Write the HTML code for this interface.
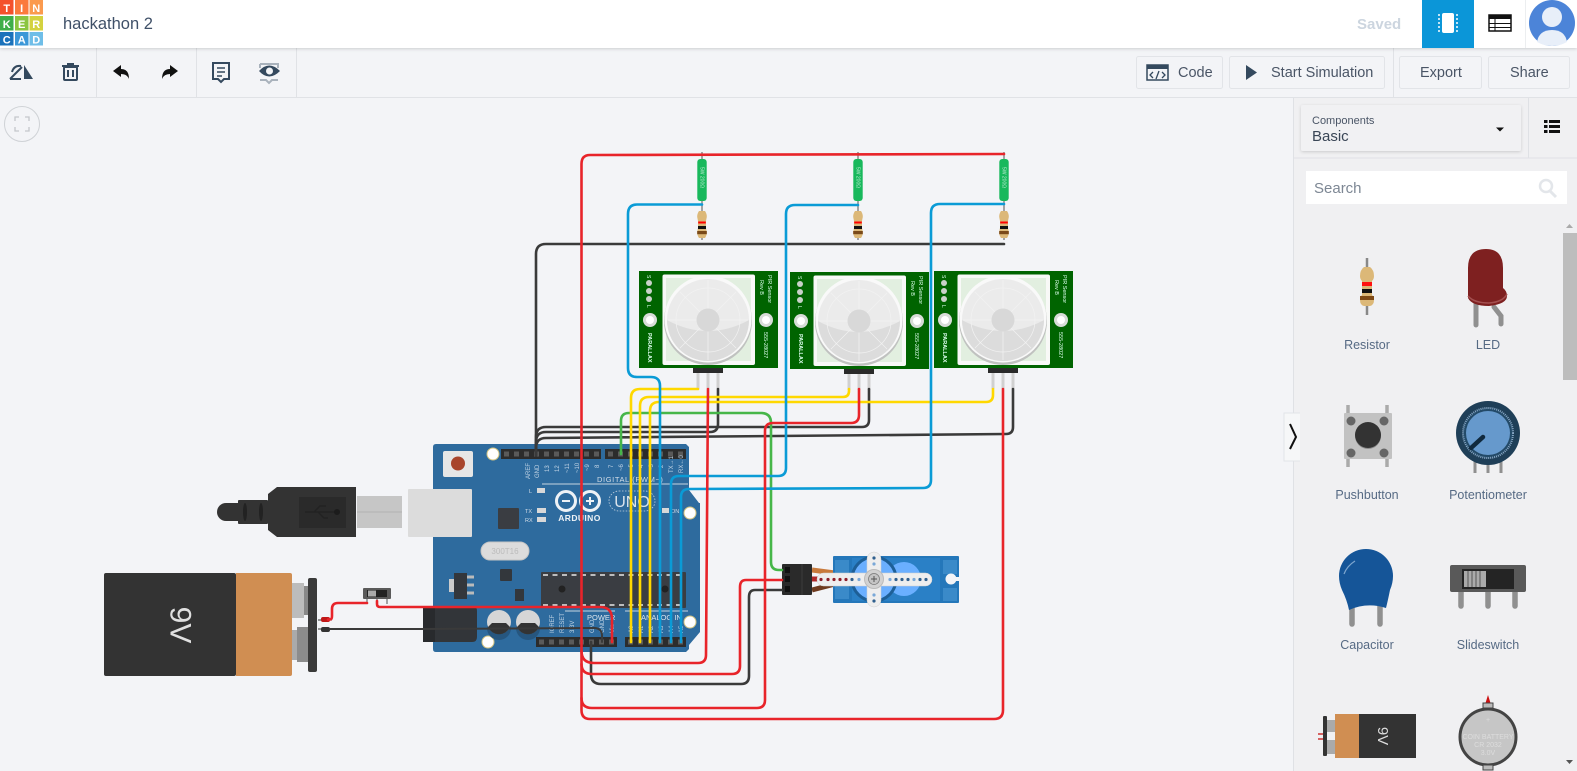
<!DOCTYPE html>
<html><head><meta charset="utf-8"><style>
html,body{margin:0;padding:0;width:1577px;height:771px;overflow:hidden;background:#f3f4f7}
svg{display:block}
text{font-family:"Liberation Sans",sans-serif}
.w{fill:none;stroke-width:2.6;stroke-linecap:round;stroke-linejoin:round}
.lab{font-size:12.5px;fill:#566a84;text-anchor:middle}
.pl{font-size:6px;fill:#c4d6e6;text-anchor:start}
.btn{fill:#f3f4f7;stroke:#e2e4e8;stroke-width:1}
.bt{font-size:14.5px;fill:#4a5566}
.ic{fill:none;stroke:#34495e;stroke-width:2}
</style></head><body>
<svg width="1577" height="771" viewBox="0 0 1577 771" xmlns="http://www.w3.org/2000/svg">
<defs>
<filter id="sh" x="-5%" y="-20%" width="110%" height="150%"><feDropShadow dx="0" dy="1" stdDeviation="1.5" flood-color="#000" flood-opacity=".16"/></filter>
<clipPath id="dome"><circle cx="69" cy="49" r="41"/></clipPath>
<g id="pir">
<rect width="139" height="97" fill="#006400"/>
<rect x="23.500" y="3.500" width="92.500" height="90.500" rx="2" fill="#f8f9f7"/>
<rect x="27" y="7" width="85" height="83" fill="#e2efe0"/>
<circle cx="69" cy="50" r="44" fill="#c0c2c0"/>
<circle cx="69" cy="48" r="43.500" fill="#f9f9f9"/>
<circle cx="69" cy="49" r="41" fill="#ebebeb"/>
<g clip-path="url(#dome)"><path d="M26 48Q69 72 112 48V95H26Z" fill="#dcdcdc"/></g>
<circle cx="69" cy="49" r="32" fill="none" stroke="#f2f2f2" stroke-width=".7"/>
<g stroke="#f2f2f2" stroke-width=".7"><path d="M69 38V9M69 60V89M58 49H29M80 49H109M61 41L41 21M77 41L97 21M61 57L41 77M77 57L97 77"/></g>
<circle cx="69" cy="49" r="11.500" fill="#d8d8d8"/>
<circle cx="10" cy="12" r="3" fill="#c9d2c9"/><circle cx="10" cy="20" r="3" fill="#c9d2c9"/><circle cx="10" cy="28" r="3" fill="#c9d2c9"/>
<circle cx="11" cy="49" r="7" fill="#d8dcd8"/><circle cx="11" cy="49" r="4" fill="#fff"/>
<circle cx="127" cy="49" r="7" fill="#d8dcd8"/><circle cx="127" cy="49" r="4" fill="#fff"/>
<text transform="translate(8,4) rotate(90)" font-size="5" fill="#dfe">S</text>
<text transform="translate(8,34) rotate(90)" font-size="5" fill="#dfe">L</text>
<text transform="translate(129,4) rotate(90)" font-size="5.500" fill="#dfe">PIR Sensor</text>
<text transform="translate(121,9) rotate(90)" font-size="5.500" fill="#dfe">Rev B</text>
<text transform="translate(9,62) rotate(90)" font-size="5.500" font-weight="bold" fill="#dfe">PARALLAX</text>
<text transform="translate(125,61) rotate(90)" font-size="5.500" fill="#dfe">555-28027</text>
<rect x="54" y="97" width="30" height="5" fill="#2a2a2a"/>
<path d="M59 102V118M69 102V118M79 102V118" stroke="#d0d0d0" stroke-width="3" fill="none"/>
</g>
<g id="lamp">
<path d="M0 -3V85" stroke="#888" stroke-width="1.500"/>
<rect x="-4.700" y="4" width="9.400" height="42" rx="3" fill="#18b85c"/>
<text transform="translate(-1.500,12) rotate(90)" font-size="5" fill="#b8ead0">5W 200Ω</text>
<path d="M-3 56Q-5 59 -4.800 62L-4 66V73L-4.800 77Q-5 80 -3 83H3Q5 80 4.800 77L4 73V66L4.800 62Q5 59 3 56Z" fill="#dcb878"/>
<rect x="-3.800" y="66.500" width="7.600" height="2" fill="#f00"/>
<rect x="-4" y="71" width="8" height="3" fill="#111"/>
<rect x="-4.800" y="76" width="9.600" height="3.200" fill="#7a4a1a"/>
</g>
</defs>

<rect width="1577" height="771" fill="#f3f4f7"/>

<!-- Palette -->
<rect x="1293" y="97" width="284" height="674" fill="#f0f0f2"/>
<line x1="1293.500" y1="97" x2="1293.500" y2="771" stroke="#dfe1e5"/>
<line x1="1293" y1="158" x2="1577" y2="158" stroke="#dfe1e5"/>
<line x1="1528.500" y1="97" x2="1528.500" y2="158" stroke="#dfe1e5"/>
<rect x="1301" y="105" width="220" height="46" rx="2" fill="#f1f1f3" filter="url(#sh)"/>
<text x="1312" y="124" font-size="11" fill="#4a5566">Components</text>
<text x="1312" y="141" font-size="15" fill="#3a4656">Basic</text>
<path d="M1496 127.500h8l-4 4z" fill="#111"/>
<g fill="#111"><rect x="1544" y="120" width="3.500" height="3"/><rect x="1549" y="120" width="11" height="3"/><rect x="1544" y="125" width="3.500" height="3"/><rect x="1549" y="125" width="11" height="3"/><rect x="1544" y="130" width="3.500" height="3"/><rect x="1549" y="130" width="11" height="3"/></g>
<rect x="1306" y="171" width="261" height="33" fill="#fff"/>
<text x="1314" y="193" font-size="15" fill="#7d8794">Search</text>
<circle cx="1546" cy="186" r="6" fill="none" stroke="#e3e6ea" stroke-width="2.500"/><path d="M1550 191l6 6" stroke="#e3e6ea" stroke-width="3"/>
<rect x="1563" y="233" width="14" height="147" fill="#bdbdbd"/>
<path d="M1566 228l3.500-4 3.500 4z" fill="#aaa"/><path d="M1566 760l3.500 4 3.500-4z" fill="#555"/>
<path d="M1300 413H1284V461H1300" fill="#f6f7f8" stroke="#e2e4e8"/>
<path d="M1290 424L1296 437L1290 449" fill="none" stroke="#111" stroke-width="2"/>

<!-- Resistor -->
<path d="M1367 258V315" stroke="#888" stroke-width="2.500"/>
<path d="M1364 267Q1360 270 1360 276Q1360 279 1362 281V295Q1360 297 1360 300Q1360 305 1364 306H1370Q1374 305 1374 300Q1374 297 1372 295V281Q1374 279 1374 276Q1374 270 1370 267Z" fill="#dcb878"/>
<rect x="1362" y="282" width="10" height="4" fill="#f11"/><rect x="1362" y="289" width="10" height="4" fill="#111"/><rect x="1360" y="296" width="14" height="4" fill="#7f4a16"/>
<text class="lab" x="1367" y="349">Resistor</text>
<!-- LED -->
<path d="M1476 301V325M1494 307L1501 316V324" fill="none" stroke="#909090" stroke-width="5" stroke-linecap="round"/>
<path d="M1468 298V268Q1468 249 1486 249Q1503 249 1503 268V288Q1507 291 1507 296Q1507 304 1489 306Q1472 306 1468 298Z" fill="#7e2020"/>
<path d="M1468 296Q1474 303 1489 303Q1503 302 1507 294" fill="none" stroke="#a45050" stroke-width="1.500"/>
<text class="lab" x="1488" y="349">LED</text>
<!-- Pushbutton -->
<path d="M1348 405V415M1387 405V415M1348 459V467M1387 459V467" stroke="#aaa" stroke-width="3.500"/>
<rect x="1344" y="413" width="48" height="46" rx="1" fill="#c2c2c2"/>
<circle cx="1368" cy="436" r="13" fill="#8b8b8b"/><circle cx="1368" cy="435" r="13" fill="#333"/>
<circle cx="1351" cy="421" r="4.500" fill="#666"/><circle cx="1384" cy="421" r="4.500" fill="#666"/><circle cx="1351" cy="453" r="4.500" fill="#666"/><circle cx="1384" cy="453" r="4.500" fill="#666"/>
<text class="lab" x="1367" y="499">Pushbutton</text>
<!-- Potentiometer -->
<path d="M1475 460V473M1488 460V473M1501 460V473" stroke="#909090" stroke-width="3"/>
<circle cx="1488" cy="433" r="32" fill="#1f3f58"/><circle cx="1488" cy="433" r="25" fill="#234a68" stroke="#8aa9c6" stroke-width="2" stroke-dasharray="1 1"/>
<circle cx="1488" cy="433" r="22" fill="#6699cc"/>
<path d="M1483 437L1471 448" stroke="#10293d" stroke-width="4.500" stroke-linecap="round"/>
<text class="lab" x="1488" y="499">Potentiometer</text>
<!-- Capacitor -->
<path d="M1352 605V624M1380 605V624" stroke="#909090" stroke-width="5.500" stroke-linecap="round"/>
<path d="M1349 610Q1347 600 1342 590Q1339 583 1339 576A27 27 0 0 1 1393 576Q1393 583 1390 590Q1388 600 1386 608Q1367 602 1349 610Z" fill="#155598"/>
<path d="M1344 574Q1347 566 1355 561" fill="none" stroke="#7ea6ce" stroke-width="1.200"/>
<text class="lab" x="1367" y="649">Capacitor</text>
<!-- Slideswitch -->
<path d="M1461 590V606M1488 590V606M1515 590V606" stroke="#909090" stroke-width="5.500" stroke-linecap="round"/>
<rect x="1450" y="565" width="76" height="27" rx="2" fill="#595959"/>
<rect x="1462" y="569" width="52" height="20" fill="#242424"/>
<rect x="1464" y="571" width="22" height="16" fill="#aaa"/>
<path d="M1468 571v16M1472 571v16M1476 571v16M1480 571v16" stroke="#555" stroke-width="1"/>
<text class="lab" x="1488" y="649">Slideswitch</text>
<!-- Battery palette -->
<rect x="1323" y="716" width="4" height="40" rx="1" fill="#333"/>
<rect x="1327" y="720" width="8" height="12" fill="#aaa"/><rect x="1327" y="740" width="8" height="14" fill="#aaa"/>
<rect x="1335" y="714" width="24" height="44" fill="#d08e52"/><rect x="1359" y="714" width="57" height="44" fill="#333"/>
<text transform="translate(1378,736) rotate(90)" font-size="15" fill="#ddd" text-anchor="middle">9V</text>
<path d="M1318 734h5M1318 739h5" stroke="#c33" stroke-width="1.500"/>
<!-- Coin -->
<path d="M1488 695l2.500 8h-5z" fill="#c11"/>
<circle cx="1488" cy="737" r="28" fill="#c6c6c6" stroke="#444" stroke-width="3"/>
<rect x="1483" y="703" width="10" height="5" fill="#bbb" stroke="#444"/><rect x="1483" y="765" width="10" height="5" fill="#bbb" stroke="#444"/>
<g font-size="7" fill="#ddd" text-anchor="middle"><text x="1488" y="722">+</text><text x="1488" y="739">COIN BATTERY</text><text x="1488" y="747">CR 2032</text><text x="1488" y="755">3.0V</text></g>

<!-- Top bar -->
<rect y="48" width="1577" height="49" fill="#f3f4f7"/>
<line y1="97.500" x2="1577" y2="97.500" stroke="#e0e2e6"/>
<g stroke="#e0e2e6"><line x1="96.500" y1="48" x2="96.500" y2="97"/><line x1="196.500" y1="48" x2="196.500" y2="97"/><line x1="296.500" y1="48" x2="296.500" y2="97"/><line x1="1393.500" y1="48" x2="1393.500" y2="97"/></g>
<rect width="1577" height="48" fill="#fff" filter="url(#sh)"/>
<g font-size="11" font-weight="bold" fill="#fff" text-anchor="middle">
<rect x="0" y="0" width="13.500" height="14.500" fill="#f4512c"/><rect x="15" y="0" width="13.500" height="14.500" fill="#fb7a3c"/><rect x="29.500" y="0" width="13.500" height="14.500" fill="#fb9a4e"/>
<rect x="0" y="16" width="13.500" height="14.500" fill="#3fae49"/><rect x="15" y="16" width="13.500" height="14.500" fill="#8cc540"/><rect x="29.500" y="16" width="13.500" height="14.500" fill="#d4d23f"/>
<rect x="0" y="32" width="13.500" height="13.500" fill="#1a72bb"/><rect x="15" y="32" width="13.500" height="13.500" fill="#3c98d8"/><rect x="29.500" y="32" width="13.500" height="13.500" fill="#6fbee8"/>
<text x="6.700" y="12">T</text><text x="21.700" y="12">I</text><text x="36.200" y="12">N</text>
<text x="6.700" y="28">K</text><text x="21.700" y="28">E</text><text x="36.200" y="28">R</text>
<text x="6.700" y="43.500">C</text><text x="21.700" y="43.500">A</text><text x="36.200" y="43.500">D</text>
</g>
<text x="63" y="29" font-size="16.500" fill="#3f5068">hackathon 2</text>
<text x="1357" y="29" font-size="15" font-weight="bold" fill="#ccd5df">Saved</text>
<rect x="1422" y="0" width="52" height="48" fill="#0b96d8"/>
<rect x="1442" y="13" width="12" height="20" rx="2" fill="#fff"/>
<path d="M1439 14v18M1457 14v18" stroke="#fff" stroke-width="1.500" stroke-dasharray="2 2"/>
<rect x="1489" y="15" width="22" height="16" fill="#fff" stroke="#111" stroke-width="1.500"/><rect x="1489" y="15" width="22" height="4" fill="#111"/>
<path d="M1489 23.500h22M1489 27.500h22M1495 19v12" stroke="#111"/>
<line x1="1525.500" y1="0" x2="1525.500" y2="48" stroke="#eceef0"/>
<circle cx="1552" cy="23" r="23" fill="#4c84d8"/>
<circle cx="1552" cy="17" r="10" fill="#e8eff9"/><path d="M1537 42Q1539 30 1552 30Q1565 30 1567 42Q1552 50 1537 42Z" fill="#e8eff9"/>

<!-- Toolbar icons -->
<path d="M10 79L22 67M10 79H21" class="ic"/><path d="M12 72Q14 65 21 66" class="ic"/><path d="M24 65V79H33Z" fill="#34495e"/>
<g class="ic"><rect x="64" y="67" width="13" height="13" rx="1"/><path d="M62 66H79M67 64H74M68 70V77M73 70V77"/></g>
<path d="M113 71L121 65V69Q129 69 129 79Q127 74 121 74V77Z" fill="#111"/>
<path d="M178 71L170 65V69Q162 69 162 79Q164 74 170 74V77Z" fill="#111"/>
<g class="ic"><path d="M213 63H229V79H224L221 82L218 79H213Z"/><path d="M217 68H225M217 72H225M217 76H222" stroke-width="1.500"/></g>
<path d="M260 64H278V68M260 64V68M260 80H266L269 83L272 80H278" fill="none" stroke="#a9b2bc" stroke-width="2"/>
<path d="M259 71Q269 60 280 71Q269 82 259 71Z" fill="#34495e"/><circle cx="269.500" cy="71" r="3.500" fill="#f3f4f7"/>
<circle cx="22" cy="124" r="17.500" fill="#f3f4f7" stroke="#cfd2d6"/>
<path d="M15 121V117H19M25 117H29V121M29 127V131H25M19 131H15V127" fill="none" stroke="#c4c7cb" stroke-width="1.300"/>
<!-- Toolbar buttons -->
<rect class="btn" x="1136.500" y="56.500" width="86" height="32" rx="2"/>
<rect class="btn" x="1229.500" y="56.500" width="155" height="32" rx="2"/>
<rect class="btn" x="1399.500" y="56.500" width="82" height="32" rx="2"/>
<rect class="btn" x="1488.500" y="56.500" width="81" height="32" rx="2"/>
<rect x="1147" y="65" width="21" height="15" fill="none" stroke="#34495e" stroke-width="1.500"/><rect x="1147" y="65" width="21" height="4" fill="#34495e"/>
<path d="M1153 72L1150 75L1153 78M1162 72L1165 75L1162 78M1159 71L1156 79" fill="none" stroke="#34495e" stroke-width="1.300"/>
<text class="bt" x="1178" y="77">Code</text>
<path d="M1246 65L1257 72.500L1246 80Z" fill="#34495e"/>
<text class="bt" x="1271" y="77">Start Simulation</text>
<text class="bt" x="1420" y="77">Export</text>
<text class="bt" x="1510" y="77">Share</text>

<!-- Lamps -->
<use href="#lamp" x="702" y="155"/><use href="#lamp" x="858" y="155"/><use href="#lamp" x="1004" y="155"/>
<!-- PIR -->
<use href="#pir" x="639" y="271"/><use href="#pir" x="790" y="272"/><use href="#pir" x="934" y="271"/>

<!-- Arduino -->
<path d="M436 444H686L689 447V490L699 503H700V632L689 645V649L686 652H436Q433 652 433 649V447Q433 444 436 444Z" fill="#2e6b9e"/>
<rect x="443" y="451" width="30" height="26" rx="2" fill="#e6e6e6"/><circle cx="458" cy="463.500" r="7" fill="#a8452c"/>
<circle cx="493" cy="454" r="6" fill="#fff" stroke="#d4c480"/><circle cx="690" cy="513" r="6" fill="#fff" stroke="#d4c480"/><circle cx="690" cy="622" r="6" fill="#fff" stroke="#d4c480"/><circle cx="488" cy="642" r="6" fill="#fff" stroke="#d4c480"/>
<g fill="#2c2c2c"><rect x="501" y="449" width="100" height="10"/><rect x="605" y="449" width="81" height="10"/><rect x="536" y="637" width="81" height="10"/><rect x="625" y="637" width="61" height="10"/></g>
<g stroke="#5a5a5a" stroke-width="5" stroke-dasharray="5 5" fill="none"><path d="M504 454H600M608 454H686M539 642H616M628 642H686"/></g>
<rect x="408" y="489" width="64" height="48" rx="1" fill="#dcdcdc"/>
<rect x="498" y="508" width="21" height="21" rx="1" fill="#3a3d42"/>
<rect x="481" y="542" width="48" height="18" rx="9" fill="#dcdcdc" stroke="#c4c4c4"/>
<text x="505" y="554" font-size="8" fill="#bbb" text-anchor="middle">300T16</text>
<rect x="500" y="569" width="12" height="12" rx="1" fill="#33373c"/>
<rect x="454" y="573" width="13" height="26" fill="#33373c"/><rect x="449" y="579" width="5" height="13" fill="#ccc"/>
<path d="M467 577h7M467 585h7M467 593h7" stroke="#bbb" stroke-width="3"/>
<rect x="515" y="589" width="9" height="12" fill="#33373c"/>
<rect x="541" y="572" width="145" height="36" rx="1" fill="#3a3d42"/>
<path d="M543 575H684M543 605H684" stroke="#e8e8e8" stroke-width="1.600" stroke-dasharray="5 4.500"/>
<circle cx="562" cy="589" r="3.500" fill="#222"/><circle cx="665" cy="589" r="3.500" fill="#222"/>
<circle cx="499" cy="628" r="12" fill="#26567f"/><circle cx="528" cy="628" r="12" fill="#26567f"/>
<circle cx="499" cy="622" r="12" fill="#d6d6d6"/><path d="M488 627A12 12 0 0 0 510 627L506 623H492Z" fill="#333"/>
<circle cx="528" cy="622" r="12" fill="#d6d6d6"/><path d="M517 627A12 12 0 0 0 539 627L535 623H521Z" fill="#333"/>
<path d="M423 606H472Q477 606 477 611V637Q477 642 472 642H426Q423 642 423 639Z" fill="#323539"/><rect x="423" y="606" width="12" height="36" fill="#282a2d"/>
<text x="597" y="482" font-size="7.500" fill="#d4dee8" letter-spacing=".6">DIGITAL (PWM~)</text>
<line x1="542" y1="484" x2="688" y2="484" stroke="#c6d4e0"/>
<rect x="537" y="488" width="8" height="5" fill="#d8d8d8"/><rect x="537" y="508" width="9" height="5" fill="#d8d8d8"/><rect x="537" y="517" width="9" height="5" fill="#d8d8d8"/><rect x="662" y="508" width="7" height="5" fill="#d8d8d8"/>
<g font-size="5.500" fill="#d4dee8"><text x="529" y="493">L</text><text x="525" y="513">TX</text><text x="525" y="522">RX</text><text x="671" y="513">ON</text></g>
<circle cx="566" cy="501" r="9.500" fill="none" stroke="#eef2f6" stroke-width="3"/><circle cx="590" cy="501" r="9.500" fill="none" stroke="#eef2f6" stroke-width="3"/>
<path d="M562 501h8M586 501h8M590 497v8" stroke="#eef2f6" stroke-width="2"/>
<text x="579.500" y="521" font-size="8.500" font-weight="bold" fill="#eef2f6" text-anchor="middle" letter-spacing=".4">ARDUINO</text>
<rect x="609" y="491" width="46" height="20" rx="10" fill="none" stroke="#c6d4e0" stroke-dasharray="1.500 1.500" stroke-width=".8"/>
<text x="632" y="507" font-size="16" fill="#dbe4ec" text-anchor="middle">UNO</text>
<g class="pl">
<text transform="translate(530,479) rotate(-90)">AREF</text><text transform="translate(539,478) rotate(-90)">GND</text><text transform="translate(549,472) rotate(-90)">13</text><text transform="translate(559,472) rotate(-90)">12</text><text transform="translate(569,473) rotate(-90)">~11</text><text transform="translate(579,473) rotate(-90)">~10</text><text transform="translate(589,471) rotate(-90)">~9</text><text transform="translate(599,468) rotate(-90)">8</text><text transform="translate(613,468) rotate(-90)">7</text><text transform="translate(623,471) rotate(-90)">~6</text><text transform="translate(633,471) rotate(-90)">~5</text><text transform="translate(643,468) rotate(-90)">4</text><text transform="translate(653,471) rotate(-90)">~3</text><text transform="translate(663,468) rotate(-90)">2</text><text transform="translate(673,473) rotate(-90)">TX→1</text><text transform="translate(683,473) rotate(-90)">RX←0</text>
<text transform="translate(554,633) rotate(-90)">IOREF</text><text transform="translate(564,633) rotate(-90)">RESET</text><text transform="translate(574,633) rotate(-90)">3.3V</text><text transform="translate(594,633) rotate(-90)">GND</text><text transform="translate(604,633) rotate(-90)">GND</text><text transform="translate(614,633) rotate(-90)">Vin</text>
<text transform="translate(633,633) rotate(-90)">A0</text><text transform="translate(643,633) rotate(-90)">A1</text><text transform="translate(653,633) rotate(-90)">A2</text><text transform="translate(663,633) rotate(-90)">A3</text><text transform="translate(673,633) rotate(-90)">A4</text><text transform="translate(683,633) rotate(-90)">A5</text>
</g>
<line x1="565" y1="611" x2="615" y2="611" stroke="#c6d4e0"/><line x1="625" y1="611" x2="688" y2="611" stroke="#c6d4e0"/>
<text x="587" y="620" font-size="7.500" fill="#dbe4ec">POWER</text>
<text x="641" y="620" font-size="7.500" fill="#dbe4ec">ANALOG IN</text>

<!-- USB -->
<rect x="357" y="496" width="45" height="32" fill="#c6c6c6"/><line x1="357" y1="512" x2="402" y2="512" stroke="#b2b2b2"/>
<path d="M277 487H356V537H277L268 530V494Z" fill="#333"/>
<rect x="299" y="497" width="47" height="31" fill="#2a2a2a"/>
<path d="M305 512H335M314 512L320 506H326M318 512L324 518H328" fill="none" stroke="#222" stroke-width="1.500"/><circle cx="337" cy="512" r="3" fill="#1c1c1c"/>
<rect x="238" y="500" width="30" height="24" rx="1" fill="#333"/>
<path d="M226 503H238V521H226A9 9 0 0 1 226 503Z" fill="#333"/>
<ellipse cx="245" cy="512" rx="2" ry="9" fill="#222"/><ellipse cx="261" cy="512" rx="2" ry="9" fill="#222"/>

<!-- Battery -->
<rect x="292" y="583" width="12" height="35" fill="#bcbcbc"/><rect x="304" y="586" width="4" height="29" fill="#888"/>
<rect x="292" y="630" width="5" height="30" fill="#aaa"/><rect x="297" y="627" width="11" height="35" fill="#8c8c8c"/>
<rect x="104" y="573" width="132" height="103" rx="2" fill="#333"/>
<path d="M236 573H290Q292 573 292 575V674Q292 676 290 676H236Z" fill="#d08e52"/>
<rect x="308" y="578" width="9" height="94" rx="2" fill="#3a3a3a"/>
<text transform="translate(180,625) rotate(90)" font-size="30" fill="#e0e0e0" text-anchor="middle" dominant-baseline="central">9V</text>
<path d="M318 620H332M318 629H332" stroke="#333" stroke-width="1"/>
<rect x="321" y="617" width="9" height="5" rx="2" fill="#c01818"/><rect x="321" y="627" width="9" height="5" rx="2" fill="#333"/>
<!-- Switch -->
<path d="M367 599V604M377 599V604M387 599V604" stroke="#888" stroke-width="1.500"/>
<rect x="363" y="588" width="28" height="11" rx="1" fill="#5a5a5a"/><rect x="367" y="590" width="20" height="7" fill="#222"/><rect x="368" y="590.500" width="8" height="6" fill="#aaa"/>

<!-- Servo -->
<path d="M812 570L835 573" stroke="#c87a3c" stroke-width="5"/>
<path d="M812 579H835" stroke="#b02a2a" stroke-width="5"/><path d="M812 590L835 584" stroke="#6e3a1e" stroke-width="5"/>
<rect x="833" y="556" width="126" height="47" rx="1" fill="#2477ba"/>
<rect x="852" y="558" width="88" height="43" fill="#2a80c6"/>
<rect x="835" y="560" width="14" height="16" fill="#3a8ac9"/><rect x="835" y="583" width="14" height="16" fill="#3a8ac9"/>
<rect x="943" y="560" width="14" height="14" fill="#3a8ac9"/><rect x="943" y="588" width="14" height="13" fill="#3a8ac9"/>
<circle cx="904" cy="579" r="17" fill="#6aafff"/>
<circle cx="874" cy="579" r="22" fill="#6aafff" stroke="#1d5f97" stroke-width="3"/>
<circle cx="951" cy="579" r="5.500" fill="#f3f4f7"/><rect x="951" y="577" width="9" height="4" fill="#f3f4f7"/>
<rect x="817" y="573" width="115" height="13" rx="6.500" fill="#eee" stroke="#d0d0d0" stroke-width=".5"/>
<rect x="867" y="552" width="14" height="55" rx="7" fill="#eee" stroke="#d0d0d0" stroke-width=".5"/>
<circle cx="874" cy="579" r="9.500" fill="#d2d2d2" stroke="#bbb"/><circle cx="874" cy="579" r="5.500" fill="#c4c4c4" stroke="#777" stroke-width=".7"/>
<path d="M871 579h6M874 576v6" stroke="#555"/>
<g fill="#8e1e2a"><circle cx="821" cy="579.500" r="1.600"/><circle cx="828" cy="579.500" r="1.600"/><circle cx="834" cy="579.500" r="1.600"/><circle cx="840" cy="579.500" r="1.600"/><circle cx="846" cy="579.500" r="1.600"/></g>
<g fill="#2f5f8e"><circle cx="852" cy="579.500" r="1.600"/><circle cx="896" cy="579.500" r="1.600"/><circle cx="902" cy="579.500" r="1.600"/><circle cx="908" cy="579.500" r="1.600"/><circle cx="920" cy="579.500" r="1.600"/><circle cx="926" cy="579.500" r="1.600"/><circle cx="874" cy="558" r="1.600"/><circle cx="874" cy="601" r="1.600"/></g>
<g fill="#7aa8d8"><circle cx="859" cy="579.500" r="1.600"/><circle cx="890" cy="579.500" r="1.600"/><circle cx="914" cy="579.500" r="1.600"/><circle cx="874" cy="564" r="1.600"/><circle cx="874" cy="595" r="1.600"/></g>
<rect x="782" y="564" width="30" height="31" rx="1" fill="#2a2a2a"/>
<line x1="802" y1="564" x2="802" y2="595" stroke="#3c3c3c"/>
<rect x="785" y="567" width="5" height="6" fill="#111"/><rect x="785" y="576" width="5" height="6" fill="#111"/><rect x="785" y="586" width="5" height="6" fill="#111"/>

<!-- Wires -->
<g class="w" stroke="#3a3a3a">
<path d="M1004 244H546Q536 244 536 254V455"/>
<path d="M718 389V424Q718 432 710 432H546Q536 432 536 442V455"/>
<path d="M869 389V420Q869 427 862 427H546Q536 427 536 437V455"/>
<path d="M1013 389V427Q1013 434 1006 434L546 438Q536 438 536 448V455"/>
<path d="M782 590H755Q749 590 749 597V676Q749 684 741 684H601Q591 684 591 674V642"/>
<path d="M330 629H420L594 628Q602 628 602 636V642" stroke-width="2"/>
</g>
<g class="w" stroke="#46b649">
<path d="M621 454V421Q621 413 629 413H761Q771 413 771 423V562Q771 570 779 570H782"/>
</g>
<g class="w" stroke="#ffd800">
<path d="M698 389H640Q631 389 631 398V642"/>
<path d="M849 389V391Q849 397 843 397H649Q640 397 640 406V642"/>
<path d="M993 389V395Q993 402 986 402H659Q650 402 650 411V642"/>
</g>
<g class="w" stroke="#0a9bd6">
<path d="M702 204.500H637Q628 204.500 628 214V368Q628 377 637 377H651Q660 377 660 386V642"/>
<path d="M858 205H795Q786 205 786 214V468Q786 476 778 476H679Q671 476 671 484V642"/>
<path d="M1004 204H940Q931 204 931 213V480Q931 488 923 488L689 489Q681 489 681 497V642"/>
</g>
<g class="w" stroke="#e8242a">
<path d="M1004 154L590 155Q581.500 155 581.500 164V710Q581.500 719 590 719H994Q1003 719 1003 710V389"/>
<path d="M708 389L706 655Q706 663 698 663H594Q581.500 663 581.500 651"/>
<path d="M782 580H746Q740 580 740 587V666Q740 674 732 674H592Q581.500 674 581.500 664"/>
<path d="M859 389V415Q859 423 851 423H773Q765 423 765 431V700Q765 708 757 708H592Q581.500 708 581.500 698"/>
<path d="M377 601V604Q377 607 380 607H600Q612 607 612 619V642"/>
<path d="M328 619.500H330Q332 619.500 332 616V609Q332 603 338 603H367"/>
</g>
</svg>
</body></html>
